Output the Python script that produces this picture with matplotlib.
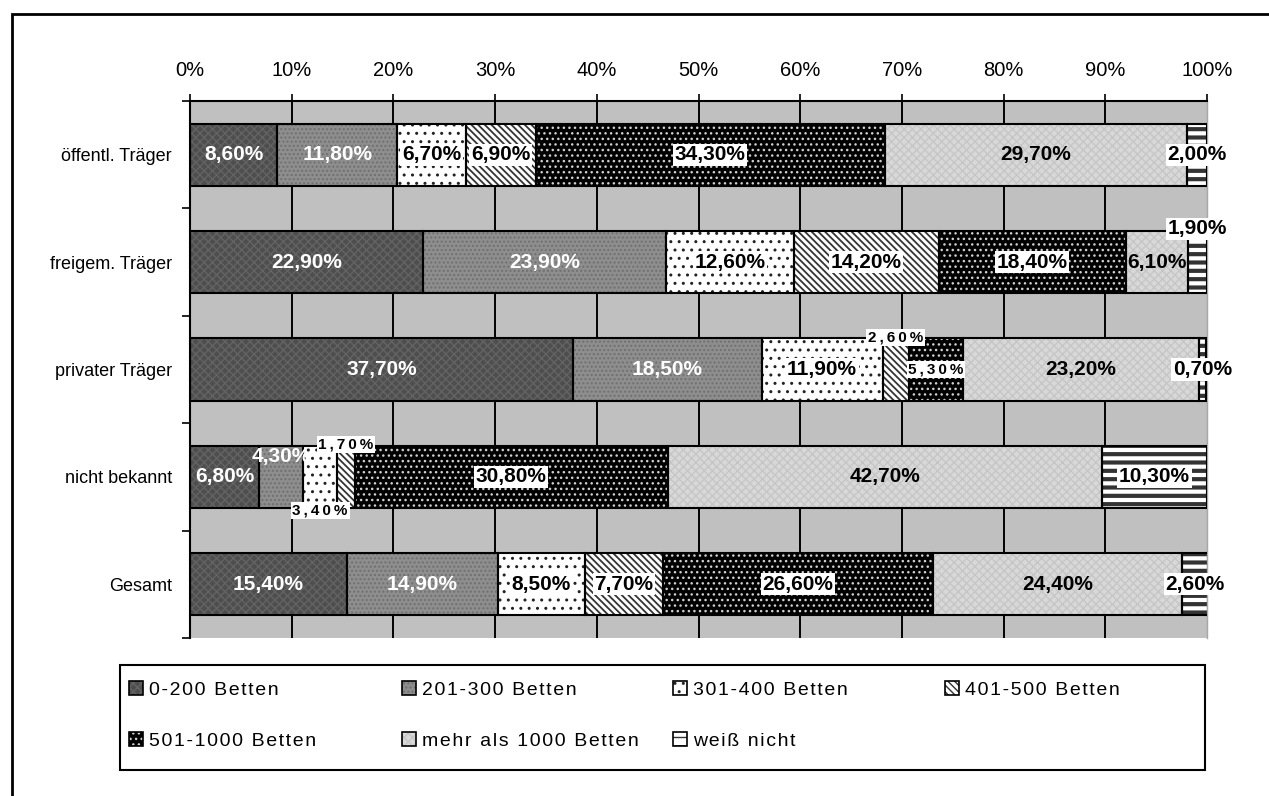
import matplotlib
matplotlib.use('Agg')
import matplotlib.pyplot as plt
import matplotlib.patches as mpatches
from matplotlib.ticker import FixedLocator, PercentFormatter
import numpy as np

plt.rcParams['font.family'] = ['Liberation Sans', 'DejaVu Sans']

# ---------------- data ----------------
categories = ['öffentl. Träger', 'freigem. Träger', 'privater Träger', 'nicht bekannt', 'Gesamt']
series_names = ['0-200 Betten', '201-300 Betten', '301-400 Betten', '401-500 Betten',
                '501-1000 Betten', 'mehr als 1000 Betten', 'weiß nicht']
v_0_200 = [8.6, 22.9, 37.7, 6.8, 15.4]
v_201_300 = [11.8, 23.9, 18.5, 4.3, 14.9]
v_301_400 = [6.7, 12.6, 11.9, 3.4, 8.5]
v_401_500 = [6.9, 14.2, 2.6, 1.7, 7.7]
v_501_1000 = [34.3, 18.4, 5.3, 30.8, 26.6]
v_1000_plus = [29.7, 6.1, 23.2, 42.7, 24.4]
v_weiss_nicht = [2.0, 1.9, 0.7, 10.3, 2.6]
series_values = [v_0_200, v_201_300, v_301_400, v_401_500, v_501_1000, v_1000_plus, v_weiss_nicht]
x_ticks = [0, 10, 20, 30, 40, 50, 60, 70, 80, 90, 100]

# ---------------- styles ----------------
styles = [
    dict(face='#4e4e4e', hatch='xxxx', hc='#636363', tc='white', box=False, hlw=1.0),
    dict(face='#8e8e8e', hatch='....', hc='#707070', tc='white', box=False, hlw=1.0),
    dict(face='white', hatch='..', hc='#222222', tc='black', box=True, hlw=1.0),
    dict(face='white', hatch='\\\\\\\\\\', hc='#333333', tc='black', box=True, hlw=1.3),
    dict(face='black', hatch='...', hc='#d0d0d0', tc='black', box=True, hlw=1.0),
    dict(face='#d8d8d8', hatch='xxxx', hc='#c6c6c6', tc='black', box=False, hlw=1.0),
    dict(face='white', hatch='--', hc='#333333', tc='black', box=True, hlw=3.0),
]
# special label placements: (series, category) -> (dy in data units, small spaced font)
special = {
    (6, 1): (-0.31, False),
    (3, 2): (-0.30, True),
    (4, 2): (0.0, True),
    (1, 3): (-0.19, False),
    (3, 3): (-0.30, True),
    (2, 3): (0.31, True),
}

W, H = 1269, 796
fig = plt.figure(figsize=(W / 100, H / 100), dpi=100)
ax = fig.add_axes([190 / W, 1 - 638 / H, (1207 - 190) / W, (638 - 101) / H])
ax.set_facecolor('#c0c0c0')

y = np.arange(len(categories))
bar_h = 0.58
left = np.zeros(len(categories))
handles = []
for i, (vals, st) in enumerate(zip(series_values, styles)):
    vals = np.array(vals)
    ax.barh(y, vals, left=left, height=bar_h, color=st['face'], linewidth=0, zorder=2)
    plt.rcParams['hatch.linewidth'] = st['hlw']
    ax.barh(y, vals, left=left, height=bar_h, color='none', edgecolor=st['hc'],
            hatch=st['hatch'], linewidth=0, zorder=2.5)
    ax.barh(y, vals, left=left, height=bar_h, fill=False, edgecolor='black',
            linewidth=1.5, zorder=3)
    h1 = mpatches.Patch(facecolor=st['face'], linewidth=0)
    h2 = mpatches.Patch(facecolor='none', edgecolor=st['hc'], hatch=st['hatch'], linewidth=0)
    h3 = mpatches.Patch(fill=False, edgecolor='black', linewidth=1.2)
    handles.append((h1, h2, h3))
    for j, v in enumerate(vals):
        txt = f"{v:.2f}".replace('.', ',') + '%'
        dy, small = special.get((i, j), (0.0, False))
        fs = 15
        if small:
            txt = '\u2009'.join(txt)
            fs = 11
        kw = {}
        if st['box']:
            kw['bbox'] = dict(facecolor='white', edgecolor='none', pad=1.2)
        ax.text(left[j] + v / 2, y[j] + dy, txt, ha='center', va='center',
                fontsize=fs, fontweight='bold', color=st['tc'], zorder=5,
                clip_on=False, **kw)
    left = left + vals
plt.rcParams['hatch.linewidth'] = 1.0

ax.set_xlim(0, 100)
ax.set_ylim(len(categories) - 0.5, -0.5)
ax.xaxis.tick_top()
ax.set_xticks(x_ticks)
ax.xaxis.set_major_formatter(PercentFormatter(decimals=0))
ax.tick_params(axis='x', which='major', direction='out', length=5, width=1.2,
               pad=10, labelsize=14.5, colors='black')
ax.set_yticks(y)
ax.set_yticklabels(categories)
ax.yaxis.set_minor_locator(FixedLocator(np.arange(-0.5, len(categories), 1.0)))
ax.tick_params(axis='y', which='major', length=0, pad=13, labelsize=13)
ax.tick_params(axis='y', which='minor', direction='out', length=6, width=1.2)

ax.grid(axis='x', color='black', linewidth=1.4, zorder=1)
ax.set_axisbelow(True)
gl = ax.get_xgridlines()
gl[-1].set_color('#a8a8a8')
gl[-1].set_linewidth(1.0)

for s in ['top', 'left']:
    ax.spines[s].set_linewidth(1.5)
    ax.spines[s].set_color('black')
ax.spines['bottom'].set_visible(False)
ax.spines['right'].set_color('#a8a8a8')
ax.spines['right'].set_linewidth(1.0)

# legend: one entry per grid cell (row-wise, 4 columns), inside a common frame
col_x = [129, 402, 673, 945]
row_y = [690, 741]
for k, (hd, name) in enumerate(zip(handles, series_names)):
    cx = col_x[k % 4]
    cy = row_y[k // 4]
    spaced = '\u200a'.join(name)
    fig.legend([hd], [spaced], loc='center left',
               bbox_to_anchor=(cx / W, 1 - cy / H), frameon=False,
               fontsize=14, handlelength=0.7, handleheight=0.7,
               handletextpad=0.35, borderpad=0, borderaxespad=0)
fig.patches.append(mpatches.Rectangle((120 / W, 1 - 770 / H), (1205 - 120) / W,
                                      (770 - 665) / H, transform=fig.transFigure,
                                      fill=False, edgecolor='black', linewidth=1.5))

# outer border of the chart area
fig.patches.append(mpatches.Rectangle((12 / W, -0.1), 2.0, (H - 14) / H + 0.1,
                                      transform=fig.transFigure, fill=False,
                                      edgecolor='black', linewidth=2.0))

fig.savefig('out.png', dpi=100)
